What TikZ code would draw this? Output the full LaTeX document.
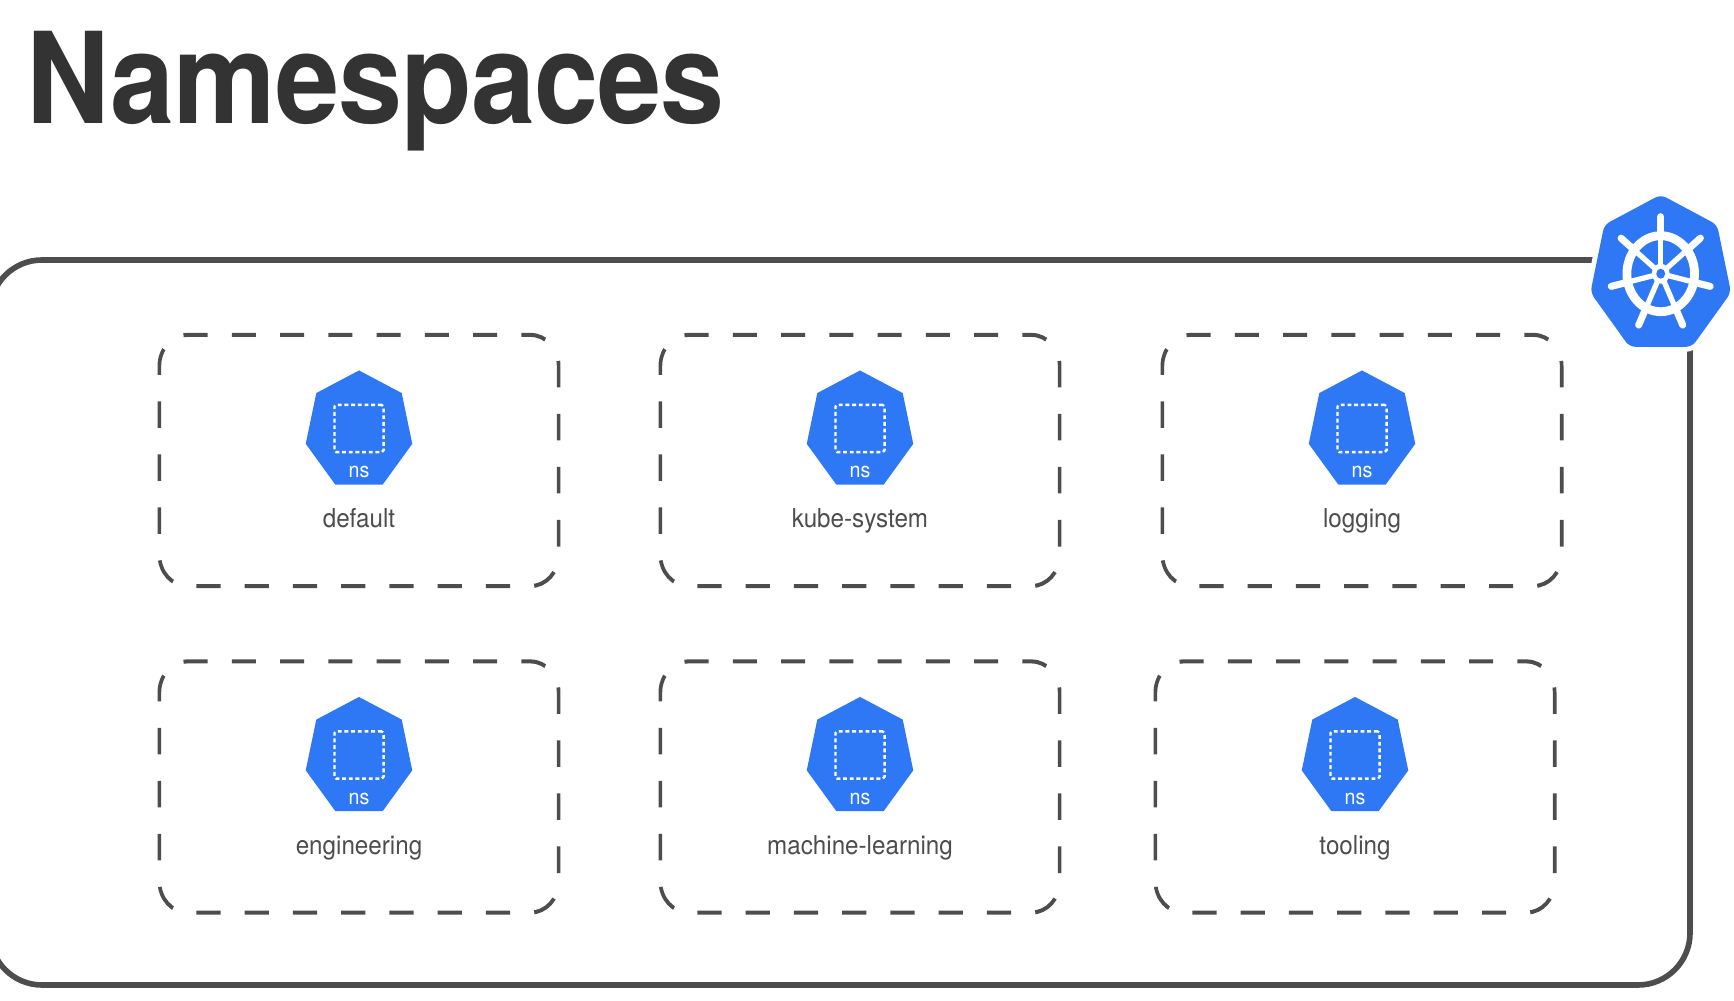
\documentclass[tikz,border=0pt]{standalone}
\usepackage{fontspec}
\setmainfont{TeX Gyre Heros}
\usetikzlibrary{shapes.geometric}
\definecolor{kubeblue}{HTML}{2F78F5}
\definecolor{framegray}{HTML}{4D4D4D}
\definecolor{titlegray}{HTML}{333333}
\begin{document}
\begin{tikzpicture}[x=0.01cm,y=0.01cm,line join=round,
	frameline/.style={draw=framegray,line width=1.6pt,rounded corners=0.52cm},
	nsbox/.style={draw=framegray,line width=1.15pt,dash pattern=on 0.265cm off 0.265cm,dash phase=0.165cm,rounded corners=0.31cm,minimum width=4.385cm,minimum height=2.51cm,inner sep=0pt},
	hepta/.style={regular polygon,regular polygon sides=7,inner sep=0pt,outer sep=0pt,xscale=0.91,transform shape},
	nsicon/.style={hepta,fill=kubeblue,minimum size=1.2cm},
	nssquare/.style={draw=white,line width=0.7pt,dash pattern=on 1.1pt off 0.8pt,rounded corners=0.5pt,minimum width=0.49cm,minimum height=0.474cm,inner sep=0pt},
	nstext/.style={text=white,font=\fontsize{6}{7}\selectfont,anchor=base,xscale=0.93,transform shape,inner sep=0pt},
	nslabel/.style={text=framegray,font=\fontsize{7.4}{9}\selectfont,anchor=base,xscale=0.93,transform shape,inner sep=0pt}]
	\useasboundingbox (0,0) rectangle (1734,1000);
	\node[anchor=base west,inner sep=0pt,text=titlegray,xscale=0.91,transform shape,font=\fontsize{36}{40}\selectfont\bfseries\addfontfeature{LetterSpace=-0.8}] (title) at (26,876) {Namespaces};
	\draw[frameline] (-10,15) rectangle (1690,740);
	% dashed boxes
	\begin{scope}[transform canvas={xscale=0.91}]
		\foreach \x/\y/\nm in {359/539.5/default,860/539.5/kubesystem,1362/539.5/logging,359/213/engineering,860/213/machine,1355/213/tooling}
			\node[nsbox] (box-\nm) at ({\x/0.91},\y) {};
	\end{scope}
	% namespaces
	\foreach \x/\y/\nm/\lab in {359/539.5/default/default,860/539.5/kubesystem/kube-system,1362/539.5/logging/logging,359/213/engineering/engineering,860/213/machine/machine-learning,1355/213/tooling/tooling} {
		\node[nsicon] (icon-\nm) at (\x,\y+30) {};
		\node[nssquare] (square-\nm) at (\x,\y+32) {};
		\node[nstext] (ns-\nm) at (\x,\y-17.2) {ns};
		\node[nslabel] (label-\nm) at (\x,\y-67.5) {\lab};
	}
	% kubernetes logo
	\node[hepta,fill=kubeblue,minimum size=1.6cm,xscale=0.99,rounded corners=0.06cm,preaction={draw=white,line width=2.8pt}] (kube) at (1660.7,725.3) {};
	\begin{scope}[shift={(1660.7,726.3)},xscale=0.89,white,line cap=round]
		\draw[line width=2.5pt] (0,0) circle (38);
		\foreach \k in {0,...,6} {
			\draw[line width=1.5pt] (90+\k*360/7:8) -- (90+\k*360/7:40);
			\draw[line width=2pt] (90+\k*360/7:38) -- (90+\k*360/7:57);
		}
		\fill (0,0) circle (10);
		\fill[kubeblue] (0,0) circle (5);
	\end{scope}
\end{tikzpicture}
\end{document}
